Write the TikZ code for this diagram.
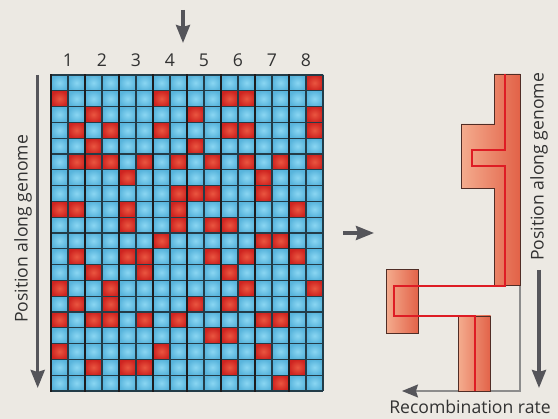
\documentclass[tikz,border=0pt]{standalone}
\usepackage{fontspec}
\setmainfont{Open Sans}
\usetikzlibrary{arrows.meta}
\definecolor{bg}{RGB}{236,233,227}
\definecolor{bluein}{RGB}{138,214,242}
\definecolor{blueout}{RGB}{88,180,220}
\definecolor{redin}{RGB}{234,86,64}
\definecolor{redout}{RGB}{206,36,32}
\definecolor{gridthin}{RGB}{35,60,72}
\definecolor{gridthick}{RGB}{28,28,30}
\definecolor{arrowgray}{RGB}{85,85,90}
\definecolor{txt}{RGB}{50,50,50}
\definecolor{salmonL}{RGB}{244,172,142}
\definecolor{salmonD}{RGB}{226,98,72}
\definecolor{redline}{RGB}{222,28,36}
\definecolor{outlinec}{RGB}{80,45,38}
\definecolor{axisgray}{RGB}{140,140,140}
\tikzset{
  bcell/.style={shading=radial, inner color=bluein, outer color=blueout},
  rcell/.style={shading=radial, inner color=redin, outer color=redout},
  gridline/.style={draw=gridthin, line width=1.1pt},
  groupline/.style={draw=gridthick, line width=2.8pt},
  lbl/.style={text=txt, font=\fontsize{17.6}{20}\selectfont, inner sep=0pt},
  bigarrow/.style={draw=arrowgray, line width=3.3pt, -{Stealth[length=18pt,width=14pt,inset=2pt]}},
  block/.style={left color=salmonL, right color=salmonD, draw=outlinec, line width=0.8pt},
  redpath/.style={draw=redline, line width=2.2pt},
}
\begin{document}
\begin{tikzpicture}[x=1pt,y=-1pt]
\fill[bg] (0,0) rectangle (558,419);
\useasboundingbox (0,0) rectangle (558,419);
% grid cells
\foreach \r in {1,...,20}
  \foreach \c in {1,...,16}
    \shade[bcell] ({51+17*(\c-1)},{75+15.8*(\r-1)}) rectangle ++(17,15.8);
\foreach \r/\cs in {1/{16},2/{1,7,11,12},3/{3,9,16},4/{2,4,7,11,12,16},5/{3,9},
  6/{2,3,4,6,8,10,12,14,16},7/{5,13},8/{8,9,10,13},9/{1,2,5,8,15},10/{5,8,10,11},
  11/{7,13,14},12/{2,5,6,10,12,15},13/{3,6,11},14/{1,4,12,16},15/{2,4,9,11},
  16/{1,3,4,6,8,13,14},17/{10,11},18/{1,7,13},19/{3,5,6,11,15},20/{14}}
  \foreach \c in \cs
    \shade[rcell] ({51+17*(\c-1)},{75+15.8*(\r-1)}) rectangle ++(17,15.8);
\foreach \c in {0,...,16}
  \draw[gridline] ({51+17*\c},75) -- ({51+17*\c},391);
\foreach \r in {0,...,20}
  \draw[gridline] (51,{75+15.8*\r}) -- (323,{75+15.8*\r});
\foreach \k in {0,...,7}
  \draw[groupline] ({51+34*\k},74.4) -- ({51+34*\k},391.6);
% column labels
\foreach \k in {1,...,8}
  \node[lbl] (col\k) at ({51+34*\k-17},60) {\k};
% arrows
\coordinate (topA) at (183,10);
\coordinate (topB) at (183,43);
\draw[bigarrow] (topA) -- (topB);
\coordinate (leftA) at (37.7,75);
\coordinate (leftB) at (37.7,388);
\draw[bigarrow] (leftA) -- (leftB);
\node[lbl, rotate=90] (posL) at (23,229) {Position along genome};
\coordinate (midA) at (343,233);
\coordinate (midB) at (374,233);
\draw[bigarrow] (midA) -- (midB);
\node[lbl, rotate=90] (posR) at (539,167) {Position along genome};
\coordinate (rightA) at (539,270);
\coordinate (rightB) at (539,388);
\draw[bigarrow] (rightA) -- (rightB);
% recombination axis
\coordinate (axTop) at (520,285);
\coordinate (axCorner) at (520,391);
\coordinate (axEnd) at (402,391);
\draw[draw=axisgray, line width=1.3pt, -{Stealth[length=16pt,width=13pt,inset=2pt,color=arrowgray]}] (axTop) -- (axCorner) -- (axEnd);
\node[lbl] (recomb) at (470,407) {Recombination rate};
% blocks
\path[block] (494,74) -- (520,74) -- (520,285) -- (494,285) -- (494,188) -- (461,188) -- (461,124) -- (494,124) -- cycle;
\path[block] (386,269.5) rectangle (418.3,333.3);
\path[block] (458.3,316) rectangle (490.7,391);
% red path
\draw[redpath] (505,74) -- (505,150) -- (472,150) -- (472,166) -- (505,166) -- (505,286) -- (394,286) -- (394,316) -- (475,316) -- (475,391);
\end{tikzpicture}
\end{document}
